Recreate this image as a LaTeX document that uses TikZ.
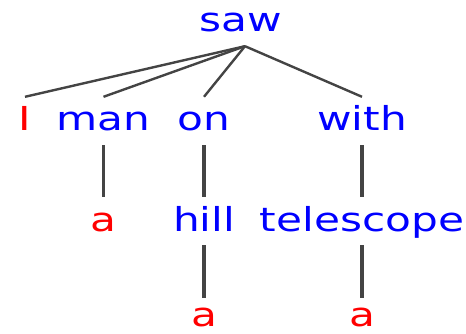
\documentclass[tikz,border=0pt]{standalone}
\usepackage{fontspec}
\newfontfamily\treefont[FakeStretch=1.28]{DejaVu Sans}
\definecolor{wordblue}{HTML}{0000FF}
\definecolor{leafred}{HTML}{FF0000}
\definecolor{edgegray}{HTML}{444444}
\begin{document}
\begin{tikzpicture}[x=1pt,y=-1pt,
  word/.style={anchor=base,inner sep=0pt,text height=34pt,text depth=14pt,
    font=\treefont\fontsize{33}{33}\selectfont},
  head/.style={word,text=wordblue},
  leaf/.style={word,text=leafred},
  bottomleaf/.style={leaf,text height=28pt,text depth=1pt},
  slant/.style={draw=edgegray,line width=2.4pt},
  vert/.style={draw=edgegray,line width=3.5pt}]
\useasboundingbox (0,0) rectangle (466,334);
\node[head] (saw) at (240.5,32) {saw};
\node[leaf] (I) at (25,131) {I};
\node[head] (man) at (103.5,131) {man};
\node[head] (on) at (204,131) {on};
\node[head] (with) at (362,131) {with};
\node[leaf] (a1) at (103.5,231) {a};
\node[head] (hill) at (204,231) {hill};
\node[head] (telescope) at (362,231) {telescope};
\node[bottomleaf] (a2) at (204,326) {a};
\node[bottomleaf] (a3) at (362,326) {a};
\coordinate (apex) at ([xshift=4.5pt]saw.south);
\draw[slant] (apex) -- (I.north);
\draw[slant] (apex) -- (man.north);
\draw[slant] (apex) -- (on.north);
\draw[slant] (apex) -- (with.north);
\draw[vert] (man.south) -- (a1.north);
\draw[vert] (on.south) -- (hill.north);
\draw[vert] (with.south) -- (telescope.north);
\draw[vert] (hill.south) -- (a2.north);
\draw[vert] (telescope.south) -- (a3.north);
\end{tikzpicture}
\end{document}
